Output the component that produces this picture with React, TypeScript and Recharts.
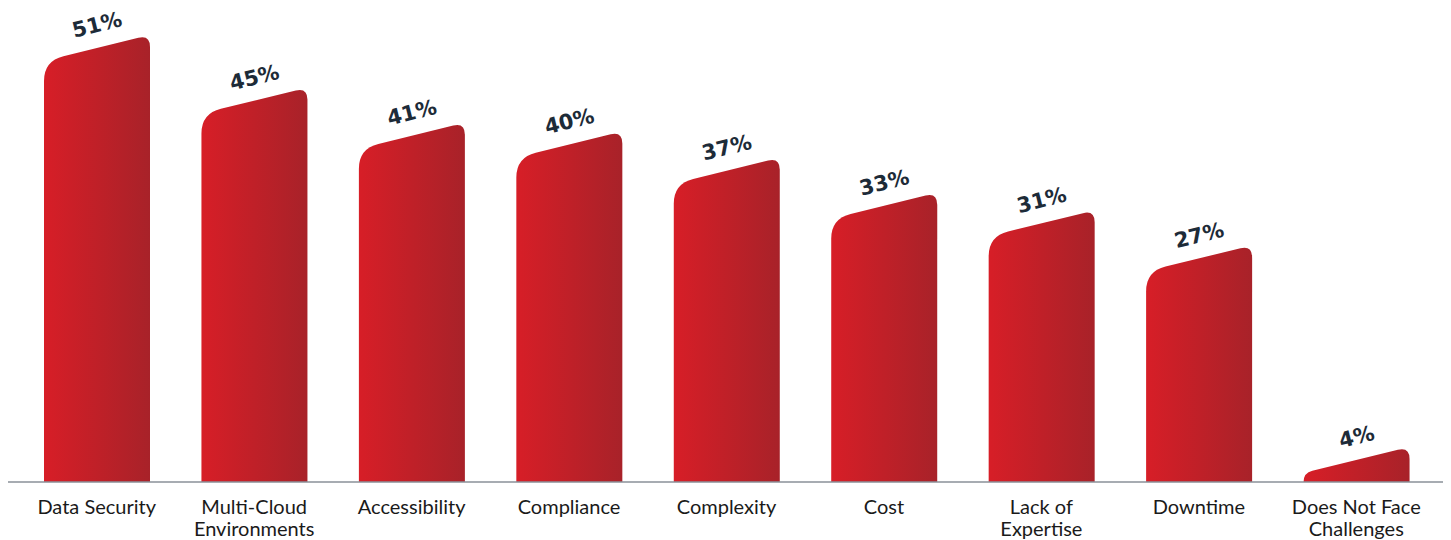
import React from 'react';
import { BarChart, Bar, XAxis, YAxis, LabelList } from 'recharts';

const categories = [
  'Data Security',
  'Multi-Cloud\nEnvironments',
  'Accessibility',
  'Compliance',
  'Complexity',
  'Cost',
  'Lack of\nExpertise',
  'Downtime',
  'Does Not Face\nChallenges',
];
const values = [51, 45, 41, 40, 37, 33, 31, 27, 4];

const data = categories.map((name, i) => ({ name, value: values[i] }));

const SLANT = 26;

// bar with a slanted, rounded top (left edge lower than right edge)
function SlantBar(props: any) {
  const { x, y, width: w, height: h, fill } = props;
  if (!h || h <= 0) return null;
  const base = y + h;
  const s = Math.min(SLANT, h);
  const ys = y + s;
  const len = Math.sqrt(w * w + s * s);
  const ux = w / len;
  const uy = -s / len;
  const r1 = Math.max(0, Math.min(20, base - ys));
  const r2 = 12;
  const d = [
    `M ${x} ${base}`,
    `L ${x} ${ys + r1}`,
    `Q ${x} ${ys} ${x + r1 * ux} ${ys + r1 * uy}`,
    `L ${x + w - r2 * ux} ${y - r2 * uy}`,
    `Q ${x + w} ${y} ${x + w} ${y + r2}`,
    `L ${x + w} ${base}`,
    'Z',
  ].join(' ');
  return <path d={d} fill={fill} />;
}

function ValueLabel(props: any) {
  const { x, y, width, value } = props;
  const cx = x + width / 2;
  const cy = y + SLANT / 2 - 23;
  return (
    <text
      x={cx}
      y={cy}
      transform={`rotate(-14 ${cx} ${cy})`}
      textAnchor="middle"
      dominantBaseline="central"
      fontFamily="DejaVu Sans"
      fontWeight={700}
      fontSize={21}
      fill="#1d2b38"
    >
      {value}%
    </text>
  );
}

function CategoryTick(props: any) {
  const { x, y, payload } = props;
  const lines = String(payload.value).split('\n');
  return (
    <text x={x} y={y + 24} textAnchor="middle" fontFamily="Lato" fontSize={20} fill="#1a1a1a">
      {lines.map((l, i) => (
        <tspan key={i} x={x} dy={i === 0 ? 0 : 22}>
          {l}
        </tspan>
      ))}
    </text>
  );
}

export default function App() {
  return (
    <div style={{ position: 'absolute', left: 0, top: 0, width: 1451, height: 540, background: '#fff' }}>
      <BarChart width={1451} height={540} data={data} margin={{ top: 35, right: 8, bottom: 0, left: 8 }} barSize={106}>
        <defs>
          <linearGradient id="barGrad" x1="0" y1="0" x2="1" y2="0">
            <stop offset="0%" stopColor="#d71e27" />
            <stop offset="100%" stopColor="#a82229" />
          </linearGradient>
        </defs>
        <XAxis
          dataKey="name"
          interval={0}
          height={58}
          padding={{ left: 10, right: 8 }}
          tickLine={false}
          axisLine={{ stroke: '#8a9098', strokeWidth: 1.5 }}
          tick={<CategoryTick />}
        />
        <YAxis hide domain={[0, 51]} />
        <Bar dataKey="value" fill="url(#barGrad)" shape={<SlantBar />} isAnimationActive={false}>
          <LabelList dataKey="value" content={<ValueLabel />} />
        </Bar>
      </BarChart>
    </div>
  );
}
